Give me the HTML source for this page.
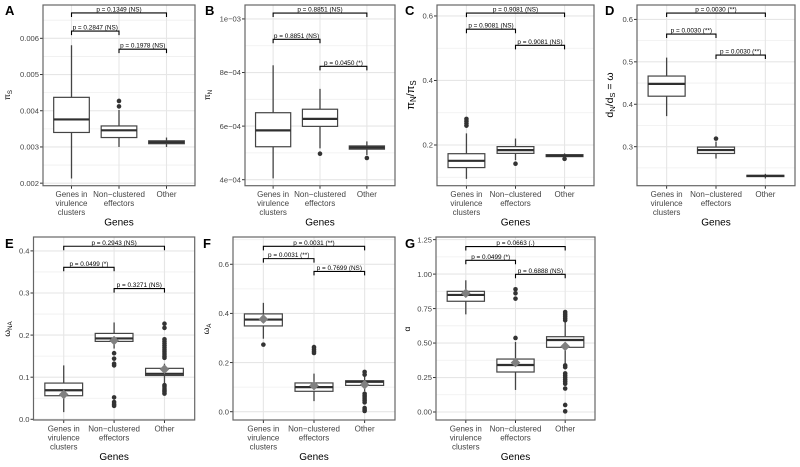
<!DOCTYPE html>
<html>
<head>
<meta charset="utf-8">
<title>Boxplots of diversity statistics by gene class</title>
<style>
html,body{margin:0;padding:0;background:#fff;width:800px;height:467px;overflow:hidden}
svg{display:block;font-family:"Liberation Sans",sans-serif;filter:blur(0.3px)}
</style>
</head>
<body>
<svg id="figure" width="800" height="467" viewBox="0 0 800 467" xmlns="http://www.w3.org/2000/svg"></svg>
<script>
const categories = [["Genes in","virulence","clusters"],["Non\u2212clustered","effectors"],["Other"]];
const xTitle = "Genes";

/* Panel A */
const aLower = [0.00213,0.00300,0.00300];
const aQ1 = [0.00340,0.00326,0.00309];
const aMedian = [0.00376,0.00346,0.00313];
const aQ3 = [0.00437,0.00358,0.00317];
const aUpper = [0.00581,0.00402,0.00326];
const aMean = [];
const aOutliers = [[],[0.00427,0.00412],[]];
const aTicks = [0.002,0.003,0.004,0.005,0.006];
const aTickLabels = ["0.002","0.003","0.004","0.005","0.006"];
const aBracketValues = [0.0067,0.0062,0.0057];
const aPLabels = ["p = 0.1349 (NS)","p = 0.2847 (NS)","p = 0.1978 (NS)"];

/* Panel B */
const bLower = [4.05e-4,5.17e-4,4.92e-4];
const bQ1 = [5.23e-4,5.99e-4,5.14e-4];
const bMedian = [5.84e-4,6.27e-4,5.20e-4];
const bQ3 = [6.50e-4,6.63e-4,5.26e-4];
const bUpper = [8.27e-4,7.39e-4,5.43e-4];
const bMean = [];
const bOutliers = [[],[4.97e-4],[4.81e-4]];
const bTicks = [4e-4,6e-4,8e-4,1e-3];
const bTickLabels = ["4e\u221204","6e\u221204","8e\u221204","1e\u221203"];
const bBracketValues = [10.22e-4,9.24e-4,8.23e-4];
const bPLabels = ["p = 0.8851 (NS)","p = 0.8851 (NS)","p = 0.0450 (*)"];

/* Panel C */
const cLower = [0.095,0.153,0.163];
const cQ1 = [0.130,0.174,0.164];
const cMedian = [0.151,0.184,0.167];
const cQ3 = [0.173,0.195,0.170];
const cUpper = [0.236,0.220,0.174];
const cMean = [];
const cOutliers = [[0.281,0.274,0.267,0.260],[0.142],[0.157]];
const cTicks = [0.2,0.4,0.6];
const cTickLabels = ["0.2","0.4","0.6"];
const cBracketValues = [0.609,0.559,0.509];
const cPLabels = ["p = 0.9081 (NS)","p = 0.9081 (NS)","p = 0.9081 (NS)"];

/* Panel D */
const dLower = [0.372,0.272,0.225];
const dQ1 = [0.419,0.284,0.2295];
const dMedian = [0.448,0.292,0.231];
const dQ3 = [0.4665,0.299,0.2325];
const dUpper = [0.510,0.312,0.236];
const dMean = [];
const dOutliers = [[],[0.319],[]];
const dTicks = [0.3,0.4,0.5,0.6];
const dTickLabels = ["0.3","0.4","0.5","0.6"];
const dBracketValues = [0.615,0.5655,0.516];
const dPLabels = ["p = 0.0030 (**)","p = 0.0030 (**)","p = 0.0030 (**)"];

/* Panel E */
const eLower = [0.017,0.168,0.085];
const eQ1 = [0.056,0.185,0.104];
const eMedian = [0.069,0.192,0.108];
const eQ3 = [0.086,0.204,0.121];
const eUpper = [0.128,0.230,0.132];
const eMean = [0.059,0.187,0.119];
const eOutliers = [[],[0.157,0.144,0.132,0.128,0.052,0.041,0.036,0.032],[0.227,0.217,0.19,0.185,0.18,0.175,0.17,0.165,0.16,0.155,0.15,0.146,0.081,0.077,0.072,0.068,0.065,0.061]];
const eTicks = [0,0.1,0.2,0.3,0.4];
const eTickLabels = ["0.0","0.1","0.2","0.3","0.4"];
const eBracketValues = [0.411,0.361,0.3105];
const ePLabels = ["p = 0.2943 (NS)","p = 0.0499 (*)","p = 0.3271 (NS)"];

/* Panel F */
const fLower = [0.297,0.043,0.083];
const fQ1 = [0.349,0.083,0.107];
const fMedian = [0.375,0.100,0.122];
const fQ3 = [0.398,0.117,0.126];
const fUpper = [0.443,0.155,0.144];
const fMean = [0.377,0.106,0.110];
const fOutliers = [[0.273],[0.263,0.254,0.246,0.239],[0.162,0.151,0.073,0.066,0.06,0.052,0.045,0.038,0.015,0.008,0.003]];
const fTicks = [0,0.2,0.4,0.6];
const fTickLabels = ["0.0","0.2","0.4","0.6"];
const fBracketValues = [0.673,0.623,0.571];
const fPLabels = ["p = 0.0031 (**)","p = 0.0031 (**)","p = 0.7699 (NS)"];

/* Panel G */
const gLower = [0.708,0.160,0.350];
const gQ1 = [0.803,0.290,0.469];
const gMedian = [0.849,0.341,0.522];
const gQ3 = [0.875,0.384,0.546];
const gUpper = [0.955,0.508,0.650];
const gMean = [0.861,0.358,0.476];
const gOutliers = [[],[0.89,0.861,0.822,0.537],[0.725,0.71,0.695,0.68,0.665,0.338,0.325,0.28,0.265,0.25,0.235,0.22,0.205,0.17,0.051,0.005]];
const gTicks = [0,0.25,0.5,0.75,1,1.25];
const gTickLabels = ["0.00","0.25","0.50","0.75","1.00","1.25"];
const gBracketValues = [1.2,1.1,0.9985];
const gPLabels = ["p = 0.0663 (.)","p = 0.0499 (*)","p = 0.6888 (NS)"];

const svgNS = "http://www.w3.org/2000/svg";
const figure = document.getElementById("figure");

function mk(parent, tag, attrs, text) {
  const el = document.createElementNS(svgNS, tag);
  for (const k in attrs) el.setAttribute(k, attrs[k]);
  if (text !== undefined) el.textContent = text;
  parent.appendChild(el);
  return el;
}

function makeLinear(d0, d1, r0, r1) {
  return function (v) { return r0 + (v - d0) / (d1 - d0) * (r1 - r0); };
}

function drawPanel(p) {
  const g = mk(figure, "g", {});
  
  

  const x0 = p.left, x1 = p.right, y0 = p.top, y1 = p.bottom;
  const y = makeLinear(p.domain[0], p.domain[1], y1, y0);
  const xStep = (x1 - x0) / 3.2;
  const x = function (i) { return x0 + xStep * (0.6 + i); };
  const boxW = xStep * 0.75;

  const bg = mk(g, "rect", {x: x0, y: y0, width: x1 - x0, height: y1 - y0, fill: "#fff"});
  
  

  /* minor grid */
  const step = p.ticks[1] - p.ticks[0];
  for (let k = -2; k < p.ticks.length + 2; k++) {
    const v = p.ticks[0] + step * (k + 0.5);
    if (v <= p.domain[0] || v >= p.domain[1]) continue;
    const l = mk(g, "line", {x1: x0, x2: x1, y1: y(v), y2: y(v), stroke: "#efefef", "stroke-width": 0.8});
    
    
  }
  /* major grid + y ticks */
  p.ticks.forEach(function (t, i) {
    const l = mk(g, "line", {x1: x0, x2: x1, y1: y(t), y2: y(t), stroke: "#e6e6e6", "stroke-width": 1.1});
    
    
    const tk = mk(g, "line", {x1: x0 - 3, x2: x0, y1: y(t), y2: y(t), stroke: "#333", "stroke-width": 1});
    
    
    const lb = mk(g, "text", {x: x0 - 4, y: y(t) + 2.7, "text-anchor": "end", "font-size": 7.6, fill: "#444"}, p.tickLabels[i]);
    
    
  });
  /* category grid, ticks, labels */
  categories.forEach(function (c, i) {
    const l = mk(g, "line", {x1: x(i), x2: x(i), y1: y0, y2: y1, stroke: "#e6e6e6", "stroke-width": 1.1});
    
    
    const tk = mk(g, "line", {x1: x(i), x2: x(i), y1: y1, y2: y1 + 3, stroke: "#333", "stroke-width": 1});
    
    
    c.forEach(function (line, j) {
      const lb = mk(g, "text", {x: x(i), y: y1 + 11.3 + j * 9, "text-anchor": "middle", "font-size": 8, fill: "#444"}, line);
      
      
    });
  });

  /* boxes */
  categories.forEach(function (c, i) {
    const bx = mk(g, "g", {});
    
    
    mk(bx, "line", {x1: x(i), x2: x(i), y1: y(p.upper[i]), y2: y(p.lower[i]), stroke: "#444", "stroke-width": 1.3});
    p.outliers[i].forEach(function (v) {
      const o = mk(bx, "circle", {cx: x(i), cy: y(v), r: 2.3, fill: "#333"});
      
      
    });
    const r = mk(bx, "rect", {x: x(i) - boxW / 2, y: y(p.q3[i]), width: boxW, height: Math.max(0.1, y(p.q1[i]) - y(p.q3[i])), fill: "#fff", stroke: "#444", "stroke-width": 1.2});
    
    
    const m = mk(bx, "line", {x1: x(i) - boxW / 2, x2: x(i) + boxW / 2, y1: y(p.median[i]), y2: y(p.median[i]), stroke: "#2f2f2f", "stroke-width": 2.2});
    
    
    if (p.mean.length) {
      const cx = x(i), cy = y(p.mean[i]), s = 4.8;
      const d = mk(bx, "polygon", {points: (cx - s) + "," + cy + " " + cx + "," + (cy - s) + " " + (cx + s) + "," + cy + " " + cx + "," + (cy + s), fill: "#808080"});
      
      
    }
  });

  /* significance brackets */
  const pairs = [[0, 2], [0, 1], [1, 2]];
  pairs.forEach(function (pr, i) {
    const by = y(p.brackets[i]);
    const br = mk(g, "path", {d: "M" + x(pr[0]) + " " + (by + 4) + "V" + by + "H" + x(pr[1]) + "V" + (by + 4), fill: "none", stroke: "#000", "stroke-width": 1.1});
    
    
    const t = mk(g, "text", {x: (x(pr[0]) + x(pr[1])) / 2, y: by - 1.5, "text-anchor": "middle", "font-size": 6.4, fill: "#000"}, p.pLabels[i]);
    
    
  });

  /* panel border */
  const border = mk(g, "rect", {x: x0, y: y0, width: x1 - x0, height: y1 - y0, fill: "none", stroke: "#666", "stroke-width": 1.2});
  
  

  /* x title */
  const xt = mk(g, "text", {x: (x0 + x1) / 2, y: y1 + 40, "text-anchor": "middle", "font-size": 10, fill: "#000"}, xTitle);
  
  

  /* y title */
  const yt = mk(g, "text", {transform: "translate(" + p.yTitleX + " " + p.yTitleY + ") rotate(-90)", "text-anchor": "middle", "font-size": p.yTitleSize, fill: "#000"});
  
  
  p.yTitle.forEach(function (part) {
    const ts = mk(yt, "tspan", {}, part[0]);
    if (part[1]) { ts.setAttribute("font-size", p.yTitleSize * 0.72); ts.setAttribute("dy", 2); }
    else if (part[2]) { ts.setAttribute("dy", -2); }
  });

  /* panel letter */
  const letter = mk(g, "text", {x: p.letterX, y: p.letterY, "font-size": 13, "font-weight": "bold", fill: "#000"}, p.id);
  
  
}

drawPanel({id:"A", left:43, right:195, top:5, bottom:185.7, domain:[0.00193,0.00692],
  lower:aLower,q1:aQ1,median:aMedian,q3:aQ3,upper:aUpper,mean:aMean,outliers:aOutliers,
  ticks:aTicks,tickLabels:aTickLabels,brackets:aBracketValues,pLabels:aPLabels,
  yTitle:[["\u03C0",0],["S",1]], yTitleX:10, yTitleY:95, yTitleSize:8.5, letterX:5, letterY:15});
drawPanel({id:"B", left:245, right:395, top:5, bottom:185.7, domain:[3.776e-4,10.52e-4],
  lower:bLower,q1:bQ1,median:bMedian,q3:bQ3,upper:bUpper,mean:bMean,outliers:bOutliers,
  ticks:bTicks,tickLabels:bTickLabels,brackets:bBracketValues,pLabels:bPLabels,
  yTitle:[["\u03C0",0],["N",1]], yTitleX:210, yTitleY:95, yTitleSize:8.5, letterX:205, letterY:15});
drawPanel({id:"C", left:437, right:594, top:5, bottom:185.7, domain:[0.0738,0.634],
  lower:cLower,q1:cQ1,median:cMedian,q3:cQ3,upper:cUpper,mean:cMean,outliers:cOutliers,
  ticks:cTicks,tickLabels:cTickLabels,brackets:cBracketValues,pLabels:cPLabels,
  yTitle:[["\u03C0",0],["N",1],["/",0,1],["\u03C0",0],["S",1]], yTitleX:414, yTitleY:95, yTitleSize:11, letterX:405, letterY:15});
drawPanel({id:"D", left:637, right:795, top:5, bottom:185.7, domain:[0.208,0.634],
  lower:dLower,q1:dQ1,median:dMedian,q3:dQ3,upper:dUpper,mean:dMean,outliers:dOutliers,
  ticks:dTicks,tickLabels:dTickLabels,brackets:dBracketValues,pLabels:dPLabels,
  yTitle:[["d",0],["N",1],["/",0,1],["d",0],["S",1],[" = \u03C9",0,1]], yTitleX:613, yTitleY:95, yTitleSize:10.5, letterX:605, letterY:15});
drawPanel({id:"E", left:33.5, right:194.7, top:237, bottom:420, domain:[-0.0017,0.433],
  lower:eLower,q1:eQ1,median:eMedian,q3:eQ3,upper:eUpper,mean:eMean,outliers:eOutliers,
  ticks:eTicks,tickLabels:eTickLabels,brackets:eBracketValues,pLabels:ePLabels,
  yTitle:[["\u03C9",0],["NA",1]], yTitleX:10, yTitleY:329, yTitleSize:8.5, letterX:5, letterY:248});
drawPanel({id:"F", left:233, right:395, top:237, bottom:420, domain:[-0.0338,0.711],
  lower:fLower,q1:fQ1,median:fMedian,q3:fQ3,upper:fUpper,mean:fMean,outliers:fOutliers,
  ticks:fTicks,tickLabels:fTickLabels,brackets:fBracketValues,pLabels:fPLabels,
  yTitle:[["\u03C9",0],["A",1]], yTitleX:209, yTitleY:329, yTitleSize:8.5, letterX:203, letterY:248});
drawPanel({id:"G", left:436, right:595, top:237, bottom:420, domain:[-0.058,1.269],
  lower:gLower,q1:gQ1,median:gMedian,q3:gQ3,upper:gUpper,mean:gMean,outliers:gOutliers,
  ticks:gTicks,tickLabels:gTickLabels,brackets:gBracketValues,pLabels:gPLabels,
  yTitle:[["\u03B1",0]], yTitleX:410, yTitleY:329, yTitleSize:8.5, letterX:405, letterY:248});
</script>
</body>
</html>
